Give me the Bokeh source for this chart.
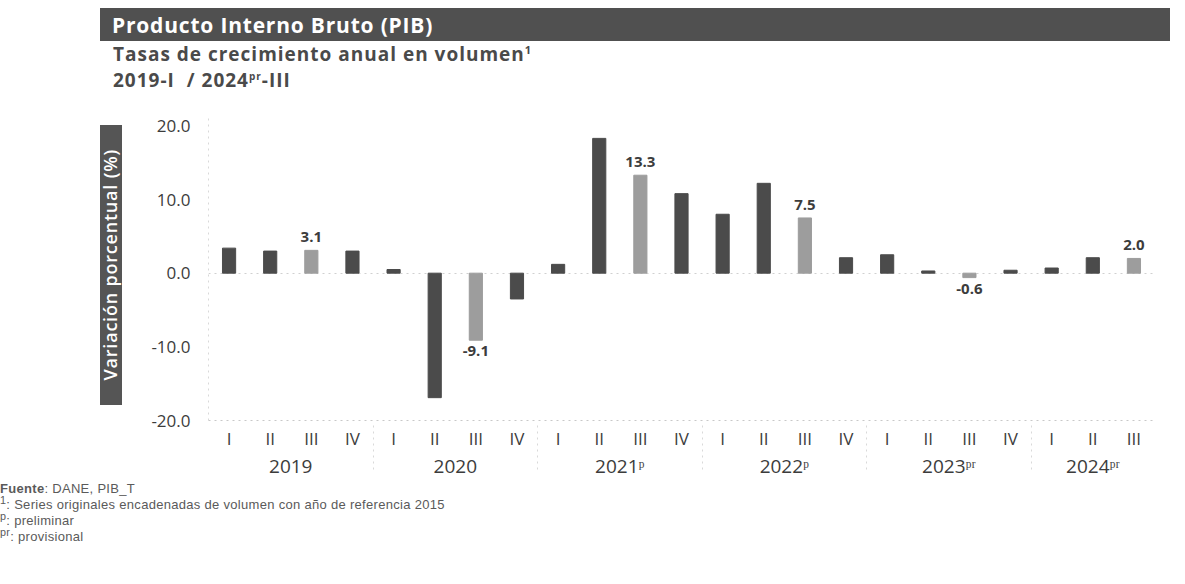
from bokeh.plotting import figure
from bokeh.models import FactorRange, Range1d, ColumnDataSource, FixedTicker, NumeralTickFormatter, Div
from bokeh.layouts import column, row
from bokeh.embed import file_html
from bokeh.resources import INLINE
from bokeh.core.properties import value

# ---------------- data ----------------
years = ["2019", "2020", "2021ᵖ", "2022ᵖ", "2023ᵖʳ", "2024ᵖʳ"]
quarters = ["I", "II", "III", "IV"]
growth_2019 = [3.4, 3.0, 3.1, 3.0]
growth_2020 = [0.5, -16.9, -9.1, -3.5]
growth_2021 = [1.2, 18.3, 13.3, 10.8]
growth_2022 = [8.0, 12.2, 7.5, 2.1]
growth_2023 = [2.5, 0.3, -0.6, 0.4]
growth_2024 = [0.7, 2.1, 2.0]
highlight_quarter = "III"
y_ticks = [-20, -10, 0, 10, 20]

series = [growth_2019, growth_2020, growth_2021, growth_2022, growth_2023, growth_2024]

FONT = "Open Sans"
DARK = "#4b4b4b"
LIGHT = "#9d9d9d"
TXT = "#3c3c3c"

xs, vals, cols = [], [], []
for yr, vs in zip(years, series):
    for q, v in zip(quarters, vs):
        xs.append((yr, q))
        vals.append(v)
        cols.append(LIGHT if q == highlight_quarter else DARK)

src = ColumnDataSource(dict(x=xs, v=vals, color=cols))

lab_x, lab_y, lab_t, lab_off, lab_base = [], [], [], [], []
for (yr, q), v in zip(xs, vals):
    if q == highlight_quarter:
        lab_x.append((yr, q))
        lab_y.append(v)
        lab_t.append(f"{v:.1f}")
        lab_off.append(-8 if v > 0 else 6)
        lab_base.append("bottom" if v > 0 else "top")
lsrc = ColumnDataSource(dict(x=lab_x, y=lab_y, t=lab_t, off=lab_off, base=lab_base))

# ---------------- figure ----------------
p = figure(
    x_range=FactorRange(*xs, factor_padding=0, group_padding=0, subgroup_padding=0, range_padding=0),
    y_range=Range1d(-20, 21),
    frame_width=946, frame_height=302,
    min_border_left=78, min_border_right=20, min_border_top=23, min_border_bottom=60,
    output_backend="svg", toolbar_location=None, margin=0,
)
p.outline_line_color = None
p.background_fill_color = "white"
p.border_fill_color = "white"

p.vbar(x="x", top="v", bottom=0, width=0.32, source=src, fill_color="color", line_color="color")

p.text(x="x", y="y", text="t", source=lsrc, y_offset="off", text_baseline="base",
       text_align="center", text_font=value(FONT), text_font_size="15px",
       text_font_style="bold", text_color=TXT)

# y axis
p.yaxis.ticker = FixedTicker(ticks=y_ticks)
p.yaxis.formatter = NumeralTickFormatter(format="0.0")
p.yaxis.major_label_text_font = FONT
p.yaxis.major_label_text_font_size = "17px"
p.yaxis.major_label_text_color = TXT
p.yaxis.major_tick_line_color = None
p.yaxis.minor_tick_line_color = None
p.yaxis.axis_line_color = "#d9d9d9"
p.yaxis.axis_line_dash = "dotted"
p.yaxis.major_label_standoff = 12

# x axis
xa = p.xaxis[0]
xa.major_tick_line_color = None
xa.minor_tick_line_color = None
xa.axis_line_color = "#c8c8c8"
xa.axis_line_dash = "dotted"
xa.major_label_text_font = FONT
xa.major_label_text_font_size = "17px"
xa.major_label_text_color = TXT
xa.major_label_standoff = 0
xa.group_text_font = FONT
xa.group_text_font_size = "19px"
xa.group_text_color = TXT
xa.group_text_font_style = "normal"
xa.separator_line_color = "#d9d9d9"
xa.separator_line_width = 1
xa.separator_line_dash = "dotted"

p.xgrid.grid_line_color = None
p.ygrid.ticker = FixedTicker(ticks=[0])
p.ygrid.grid_line_color = "#d0d0d0"
p.ygrid.grid_line_dash = "dotted"

# ---------------- HTML parts ----------------
banner = Div(
    width=1180, height=41, margin=0,
    text=(
        '<div style="margin-left:100px;margin-top:8px;width:1070px;height:33px;background:#505050;'
        'display:flex;align-items:center;">'
        f'<span style="margin-left:12px;color:#ffffff;font-family:\'{FONT}\';font-weight:bold;'
        'font-size:21px;letter-spacing:0.8px;white-space:nowrap;">Producto Interno Bruto (PIB)</span></div>'
    ),
)

subtitle = Div(
    width=1180, height=54, margin=0,
    text=(
        f'<div style="margin-left:113px;padding-top:0px;font-family:\'{FONT}\';font-size:19px;'
        f'font-weight:bold;letter-spacing:1px;color:#4a4a4a;line-height:26px;white-space:nowrap;">'
        'Tasas de crecimiento anual en volumen<sup style="font-size:11px;line-height:0;">1</sup><br>'
        '2019-I&nbsp;&nbsp;/ 2024<sup style="font-size:10px;line-height:0;">pr</sup>-III</div>'
    ),
)

ylabel = Div(
    width=130, height=385, margin=0,
    text=(
        '<div style="margin-left:100px;margin-top:30px;width:22px;height:280px;background:#555555;'
        'display:flex;align-items:center;justify-content:center;">'
        f'<span style="writing-mode:vertical-rl;transform:rotate(180deg);color:#ffffff;'
        f'font-family:\'{FONT}\';font-weight:600;font-size:18px;letter-spacing:0.8px;white-space:nowrap;">'
        'Variación porcentual (%)</span></div>'
    ),
)

footer = Div(
    width=1180, height=90, margin=0,
    text=(
        '<div style="font-family:\'Liberation Sans\';font-size:13px;letter-spacing:0.3px;color:#5a5a5a;'
        'line-height:16px;white-space:nowrap;">'
        '<b>Fuente</b>: DANE, PIB_T<br>'
        '<sup style="line-height:0;">1</sup>: Series originales encadenadas de volumen con año de referencia 2015<br>'
        '<sup style="line-height:0;">p</sup>: preliminar<br>'
        '<sup style="line-height:0;">pr</sup>: provisional</div>'
    ),
)

layout = column(banner, subtitle, row(ylabel, p, margin=0, spacing=0), footer, spacing=0, margin=0)

open("out.html", "w").write(file_html(layout, INLINE))
